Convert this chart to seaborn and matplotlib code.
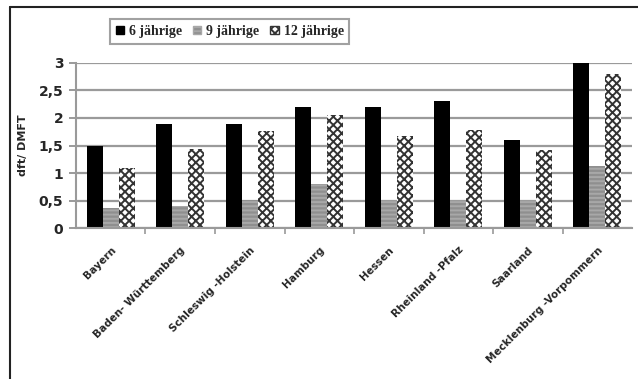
import matplotlib
matplotlib.use("Agg")
import matplotlib.pyplot as plt
from matplotlib.lines import Line2D
from matplotlib.patches import Patch
import numpy as np
import pandas as pd
import seaborn as sns

# Federal states and caries index by age group
states = ["Bayern", "Baden- Württemberg", "Schleswig -Holstein", "Hamburg",
          "Hessen", "Rheinland -Pfalz", "Saarland", "Mecklenburg -Vorpommern"]
groups = ["6 jährige", "9 jährige", "12 jährige"]
age6 = [1.5, 1.9, 1.9, 2.2, 2.2, 2.3, 1.6, 3.0]
age9 = [0.36, 0.4, 0.51, 0.8, 0.49, 0.5, 0.5, 1.13]
age12 = [1.1, 1.43, 1.77, 2.05, 1.68, 1.78, 1.42, 2.8]
yticks = [0, 0.5, 1, 1.5, 2, 2.5, 3]
ytick_labels = ["0", "0,5", "1", "1,5", "2", "2,5", "3"]

df = pd.DataFrame({
    "state": states * 3,
    "group": [g for g in groups for _ in states],
    "value": age6 + age9 + age12,
})

sns.set_theme(style="white")
plt.rcParams["hatch.linewidth"] = 1.4

fig = plt.figure(figsize=(6.38, 3.79), dpi=100)
ax = fig.add_axes([0.119, 0.398, 0.872, 0.436])

palette = {"6 jährige": "#000000", "9 jährige": "#8c8c8c", "12 jährige": "#ffffff"}
sns.barplot(data=df, x="state", y="value", hue="group", order=states,
            hue_order=groups, palette=palette, width=0.69, ax=ax,
            legend=False, saturation=1, linewidth=0)

styles = [dict(color="#000000", hatch=None),
          dict(color="#8f8f8f", hatch="----", edge="#a8a8a8"),
          dict(color="#ffffff", hatch="xxxx", edge="#333333")]
for cont, st in zip(ax.containers, styles):
    for bar in cont:
        bar.set_facecolor(st["color"])
        if st["hatch"]:
            bar.set_hatch(st["hatch"])
            bar.set_edgecolor(st["edge"])
            bar.set_linewidth(0)

ax.set_ylim(0, 3)
ax.set_xlim(-0.5, len(states) - 0.5)
ax.set_yticks(yticks)
ax.set_yticklabels(ytick_labels, fontsize=10, fontweight="bold")
ax.yaxis.grid(True, color="#9a9a9a", linewidth=1.6)
ax.set_axisbelow(True)
for side in ["top", "right"]:
    ax.spines[side].set_visible(False)
for side in ["left", "bottom"]:
    ax.spines[side].set_color("#9a9a9a")
    ax.spines[side].set_linewidth(1.5)

ax.tick_params(axis="y", left=True, length=5, width=1.4, color="#9a9a9a", pad=4)
ax.set_xticks(range(len(states)))
ax.set_xticklabels(states, rotation=45, ha="right", rotation_mode="anchor",
                   fontsize=7.5, fontweight="bold")
ax.tick_params(axis="x", bottom=False, pad=6)
ax.set_xticks(np.arange(0.5, len(states) - 0.5, 1), minor=True)
ax.tick_params(axis="x", which="minor", bottom=True, length=4, width=1.2,
               color="#9a9a9a")

ax.set_xlabel("")
ax.set_ylabel("dft/ DMFT", fontsize=8, fontweight="bold", labelpad=8)

handles = [Patch(facecolor="#000000", edgecolor="#000000"),
           Patch(facecolor="#8f8f8f", edgecolor="#a8a8a8", hatch="----"),
           Patch(facecolor="#ffffff", edgecolor="#333333", hatch="xxxx")]
leg = fig.legend(handles, groups, loc="center", bbox_to_anchor=(0.36, 0.917),
                 ncol=3, frameon=True, fancybox=False, handlelength=0.6,
                 handleheight=0.6, handletextpad=0.35, columnspacing=0.8,
                 borderpad=0.4,
                 prop={"family": "Liberation Serif", "weight": "bold", "size": 10})
leg.get_frame().set_edgecolor("#8a8a8a")
leg.get_frame().set_linewidth(1.5)

# outer frame: left and top border lines
fig.add_artist(Line2D([10 / 638, 10 / 638], [0, 1 - 7 / 379],
                      transform=fig.transFigure, color="#222222", linewidth=1.5))
fig.add_artist(Line2D([10 / 638, 1], [1 - 7 / 379, 1 - 7 / 379],
                      transform=fig.transFigure, color="#222222", linewidth=1.5))

fig.savefig("out.png", dpi=100, facecolor="white")
